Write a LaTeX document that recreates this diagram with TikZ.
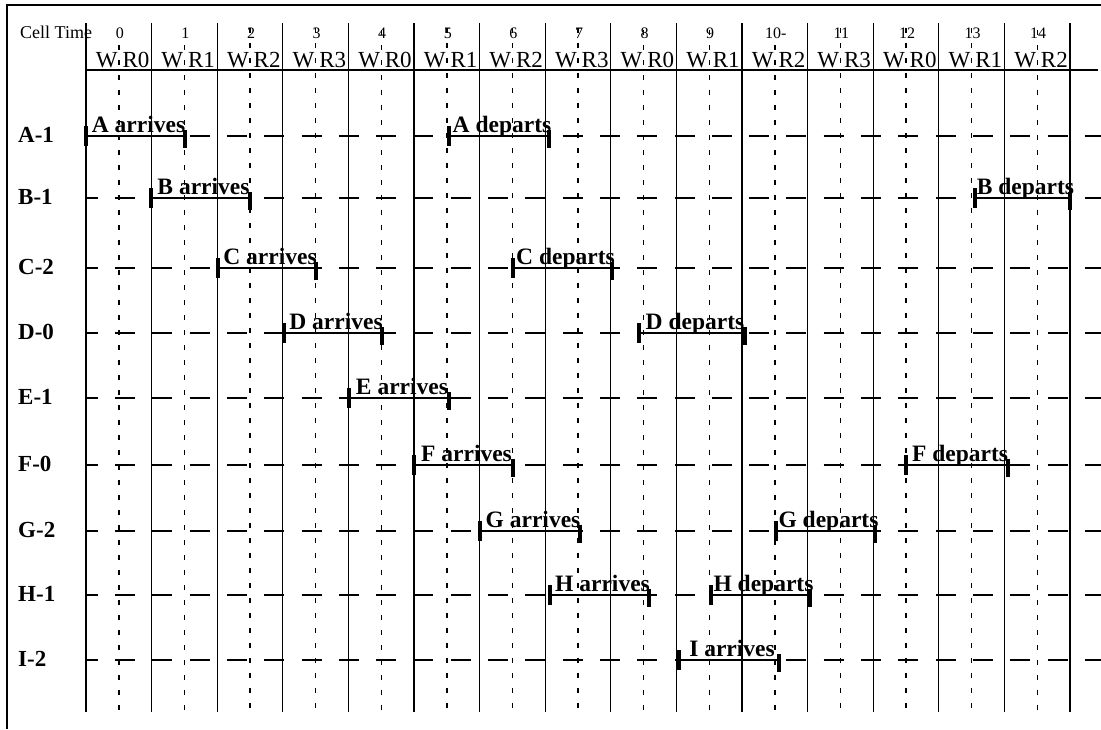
\documentclass[tikz,border=0pt]{standalone}
\usepackage{fontspec}
\setmainfont{Liberation Serif}
\usetikzlibrary{calc}
\newcommand{\timebar}[5]{%
  \coordinate (#1s) at (#3,#2);
  \coordinate (#1e) at (#4,#2);
  \draw[barline] (#1s) -- (#1e);
  \draw[tickline] ([yshift=10pt]#1s) -- ([yshift=-10pt]#1s);
  \draw[tickline] ([yshift=6pt]#1e) -- ([yshift=-12pt]#1e);
  \node[barlab] (#1l) at ($(#1s)!0.5!(#1e)+(3,-3.5)$) {#5};
}
\begin{document}
\begin{tikzpicture}[x=1pt,y=-1pt,
  frameline/.style={line width=1.3pt},
  cellline/.style={line width=1.3pt},
  halfline/.style={line width=1.4pt, dash pattern=on 5pt off 10pt},
  rowline/.style={line width=1.2pt, dash pattern=on 20pt off 17.3pt, dash phase=8.3pt},
  barline/.style={line width=2.8pt},
  tickline/.style={line width=3.2pt},
  hdr/.style={font=\fontsize{16}{16}\selectfont, inner sep=0pt},
  wr/.style={font=\fontsize{23}{23}\selectfont, inner sep=0pt},
  rowlab/.style={font=\fontsize{23}{23}\selectfont\bfseries, inner sep=0pt, anchor=base west},
  barlab/.style={font=\fontsize{23.5}{23.5}\selectfont\bfseries, inner sep=0pt, anchor=base},
]
\useasboundingbox (0,0) rectangle (1101,729);
\fill[white] (0,0) rectangle (1101,729);

% frame
\coordinate (ftr) at (1101,5);
\coordinate (ftl) at (7,5);
\coordinate (fbl) at (7,729);
\draw[frameline] (ftr) -- (ftl) -- (fbl);

% header rule
\coordinate (hl) at (86,70);
\coordinate (hr) at (1098,70);
\draw[cellline] (hl) -- (hr);

% solid cell boundaries
\foreach \k in {0,...,15} {
  \coordinate (ct\k) at ({86+65.6*\k},23);
  \coordinate (cb\k) at ({86+65.6*\k},712);
  \draw[cellline] (ct\k) -- (cb\k);
}

% dashed half-cell lines
\foreach \k/\t in {0/45,1/45,2/28,3/28,4/30,5/28,6/28,7/28,8/30,9/30,10/45,11/28,12/28,13/28,14/30} {
  \coordinate (dt\k) at ({118.8+65.6*\k},\t);
  \coordinate (db\k) at ({118.8+65.6*\k},715);
  \draw[halfline] (dt\k) -- (db\k);
}

% header texts
\node[hdr, anchor=base west] (celltime) at (20,38.5) {\fontsize{18}{18}\selectfont Cell Time};
\foreach \k/\lab in {0/0,1/1,2/2,3/3,4/4,5/5,6/6,7/7,8/8,9/9,10/10-,11/11,12/12,13/13,14/14} {
  \node[hdr, anchor=base] (num\k) at ({119.8+65.6*\k},38.5) {\lab};
}
\foreach \k/\r in {0/0,1/1,2/2,3/3,4/0,5/1,6/2,7/3,8/0,9/1,10/2,11/3,12/0,13/1,14/2} {
  \node[wr, anchor=base east] (w\k) at ({117.8+65.6*\k},67) {W};
  \node[wr, anchor=base west] (r\k) at ({122.3+65.6*\k},67) {R\r};
}

% rows
\foreach \n/\y/\lab in {A/136/A-1,B/198/B-1,C/268/C-2,D/333/D-0,E/398/E-1,F/465/F-0,G/531/G-2,H/595/H-1,I/660/I-2} {
  \node[rowlab] (lab\n) at (18,\y+6) {\lab};
  \coordinate (row\n s) at (86,\y);
  \coordinate (row\n e) at (1101,\y);
  \draw[rowline] (row\n s) -- (row\n e);
}

% bars
\timebar{Aa}{136}{86}{185}{A arrives}
\timebar{Ad}{136}{449}{549}{A departs}
\timebar{Ba}{198}{151}{250}{B arrives}
\timebar{Bd}{198}{975}{1070}{B departs}
\timebar{Ca}{268}{218}{316}{C arrives}
\timebar{Cd}{268}{513}{612}{C departs}
\timebar{Da}{333}{284}{382}{D arrives}
\timebar{Dd}{333}{639}{745}{D departs}
\timebar{Ea}{398}{349}{449}{E arrives}
\timebar{Fa}{465}{414}{513}{F arrives}
\timebar{Fd}{465}{906}{1008}{F departs}
\timebar{Ga}{531}{480}{580}{G arrives}
\timebar{Gd}{531}{776}{875}{G departs}
\timebar{Ha}{595}{550}{649}{H arrives}
\timebar{Hd}{595}{711}{810}{H departs}
\timebar{Ia}{660}{679}{779}{I arrives}
\end{tikzpicture}
\end{document}
